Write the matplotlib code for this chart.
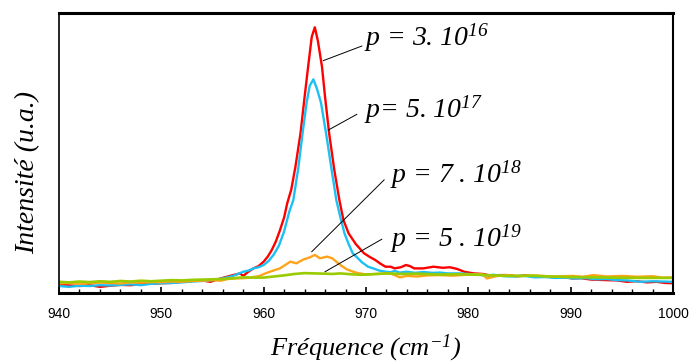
# Raman spectra: intensity vs frequency for four doping levels
import matplotlib.pyplot as plt

plt.rcParams['mathtext.fontset'] = 'custom'
plt.rcParams['mathtext.rm'] = 'Liberation Serif:italic'
plt.rcParams['mathtext.it'] = 'Liberation Serif:italic'

red_x = [940, 941, 942, 943, 944, 945, 946, 947, 948, 949, 950, 951, 952, 953, 953.8, 954.8,
         955.5, 956.2, 957.0, 957.7, 958.0, 958.5, 959.0, 959.5, 960.0, 960.4, 960.8, 961.2,
         961.6, 962.0, 962.3, 962.7, 963.1, 963.6, 964.0, 964.35, 964.7, 965.0, 965.3, 965.7,
         966.0, 966.4, 966.9, 967.4, 967.8, 968.3, 969.0, 969.8, 970.4, 970.9, 971.4, 971.9,
         972.4, 972.8, 973.4, 973.9, 974.3, 974.7, 975.6, 976.6, 977.5, 978.2, 978.9, 979.6,
         980.5, 981.4, 982.2, 983, 983.8, 984.7, 985.6, 986.5, 987.5, 988.3, 989.2, 990.2,
         991, 992, 993.5, 994.5, 995.5, 996.4, 997.5, 998.4, 999.2, 1000]
red_y = [2.9, 2.7, 2.5, 2.8, 2.2, 2.6, 2.9, 2.8, 3.2, 3.3, 3.5, 3.6, 4.0, 4.3, 4.6, 4.0,
         4.9, 5.6, 6.4, 7.0, 6.1, 7.6, 8.8, 9.6, 11.2, 13.0, 15.4, 18.5,
         22.5, 27, 32, 37, 45, 57, 70, 81, 91.5, 94.9, 90, 80.8,
         70, 57, 44, 33.2, 26, 21.3, 17.5, 14.2, 12.8, 11.8, 10.5, 9.4,
         9.4, 8.8, 9.2, 10.0, 9.6, 8.8, 8.8, 9.4, 9.0, 9.2, 8.6, 7.6,
         7.0, 6.8, 6.2, 6.4, 6.4, 6.0, 6.3, 5.8, 6.0, 5.6, 5.7, 5.2,
         5.3, 4.8, 4.6, 4.5, 4.0, 4.2, 3.8, 4.0, 3.6, 3.5]

blue_x = [940, 941, 942, 943, 944, 945, 946, 947, 948, 949, 950, 951, 952, 953, 954, 955,
          956, 957, 958, 958.5, 959, 959.5, 960, 960.5, 961, 961.5, 962, 962.5, 962.9, 963.4,
          963.8, 964.2, 964.5, 964.86, 965.2, 965.6, 966.1, 966.6, 967.1, 967.5, 967.9, 968.3,
          968.7, 969.1, 969.6, 970.2, 970.7, 971.3, 971.9, 972.4, 972.8, 973.3, 974, 974.8,
          975.6, 976.5, 977.2, 978, 979.2, 980, 981, 981.6, 982.5, 983.5, 984.5, 985.5,
          986.5, 987.5, 988.5, 989.5, 990.2, 991.5, 992.5, 993.5, 994.5, 995.5, 996.8, 998,
          999, 1000]
blue_y = [2.5, 2.2, 2.6, 2.5, 2.8, 2.7, 2.9, 3.1, 2.8, 3.3, 3.5, 3.6, 3.8, 4.1, 4.3, 4.6,
          5.2, 6.1, 7.6, 8.0, 8.8, 9.2, 10.0, 11.5, 13.8, 17, 22, 29, 33.2, 45,
          57, 68, 74, 76.3, 73, 68, 57, 45, 33.2, 27, 21.3, 17.5,
          14.2, 12.8, 11.0, 9.4, 8.8, 8.0, 7.6, 7.4, 7.9, 7.3, 7.6, 7.2,
          7.5, 7.2, 7.3, 7.0, 7.0, 6.8, 6.6, 6.2, 6.5, 6.0, 5.9, 6.1,
          5.6, 5.7, 5.4, 5.5, 5.2, 5.3, 4.9, 5.0, 4.6, 4.5, 4.0, 4.2,
          4.1, 4.0]

orange_x = [940, 941, 942, 943, 944, 945, 946, 947, 948, 949, 950, 951, 952, 953, 954, 955,
            955.8, 956.5, 957.2, 958, 958.7, 959.6, 960.1, 960.6, 961.1, 961.6, 962.1, 962.6,
            963.2, 963.9, 964.5, 965.0, 965.5, 966.2, 966.7, 967.1, 967.5, 968.1, 968.6, 969.1,
            969.4, 970, 971, 972.4, 973.3, 974.0, 975, 976, 977.2, 978.5, 980, 981.4,
            981.8, 982.7, 983.8, 985, 986.5, 988, 990.2, 991.2, 992.2, 993.5, 995.1, 996.5,
            998, 999, 1000]
orange_y = [3.4, 3.6, 3.3, 3.5, 3.7, 3.6, 3.4, 3.8, 3.7, 3.9, 3.9, 4.1, 4.0, 4.3, 4.4, 4.6,
            4.4, 5.0, 5.2, 5.3, 5.5, 6.1, 6.9, 7.6, 8.2, 8.8, 10.0, 11.2,
            10.6, 12.0, 12.7, 13.6, 12.4, 13.0, 12.4, 11.2, 10.0, 8.5, 7.8, 7.2,
            7.0, 6.6, 6.8, 7.0, 5.6, 6.1, 5.9, 6.3, 6.4, 6.2, 6.6, 6.7,
            5.2, 6.0, 6.4, 6.0, 6.3, 5.9, 6.1, 5.8, 6.4, 5.9, 6.1, 5.8,
            6.0, 5.5, 5.6]

green_x = [940, 941, 942, 943, 944, 945, 946, 947, 948, 949, 950, 951, 952, 953, 954, 955,
           956, 957, 958, 959, 960, 961, 962, 963, 964, 965, 966, 966.7, 967.5, 968.5,
           969.5, 970.5, 972, 973.5, 975, 977, 979, 981, 982.5, 984, 986, 988,
           990, 992, 994, 996, 998, 1000]
green_y = [4.0, 3.8, 4.1, 3.9, 4.2, 4.0, 4.3, 4.1, 4.4, 4.2, 4.4, 4.6, 4.5, 4.7, 4.8, 4.9,
           5.0, 5.3, 5.6, 5.5, 5.5, 5.9, 6.3, 6.8, 7.1, 7.0, 6.9, 6.8, 7.0, 6.7,
           6.5, 6.7, 7.0, 6.8, 6.9, 6.6, 6.7, 6.5, 6.3, 6.1, 6.2, 5.9,
           5.7, 5.6, 5.5, 5.4, 5.4, 5.4]

labels = ['p = 3. 10$^{16}$', 'p= 5. 10$^{17}$', 'p = 7 . 10$^{18}$', 'p = 5 . 10$^{19}$']
label_xy = [(969.8, 91.1), (969.8, 65.4), (972.3, 42.1), (972.3, 19.3)]
leader_from = [(965.84, 83.0), (966.32, 58.2), (964.70, 14.75), (966.0, 7.6)]
leader_to = [(969.59, 88.2), (969.10, 63.8), (971.77, 40.4), (971.54, 19.2)]

fig = plt.figure(figsize=(6.89, 3.63), dpi=100)
ax = fig.add_axes([0.0856, 0.1928, 0.8912, 0.7714])

ax.plot(red_x, red_y, color='#ff0000', lw=1.7)
ax.plot(blue_x, blue_y, color='#1ec0f2', lw=1.7)
ax.plot(orange_x, orange_y, color='#ffa31a', lw=1.7)
ax.plot(green_x, green_y, color='#99cc00', lw=1.9)

for (x0, y0), (x1, y1) in zip(leader_from, leader_to):
    ax.plot([x0, x1], [y0, y1], color='black', lw=0.7)

for txt, (x, y) in zip(labels, label_xy):
    ax.text(x, y, txt, family='Liberation Serif', style='italic', fontsize=20,
            va='center', ha='left')

ax.set_xlim(940, 1000)
ax.set_ylim(0, 100)
ax.set_xticks(range(940, 1001, 10))
ax.set_xticks(range(940, 1001, 2), minor=True)
ax.set_yticks([])
ax.tick_params(axis='x', which='major', direction='in', length=4.5, width=1.2, pad=10,
               labelsize=10)
ax.tick_params(axis='x', which='minor', direction='in', length=3, width=1.0)
for lbl in ax.get_xticklabels():
    lbl.set_family('Liberation Sans')

ax.spines['top'].set_linewidth(2.2)
ax.spines['bottom'].set_linewidth(2.2)
ax.spines['left'].set_linewidth(1.2)
ax.spines['right'].set_linewidth(1.5)

ax.set_xlabel('Fréquence (cm$^{-1}$)', family='Liberation Serif', style='italic',
              fontsize=19)
ax.xaxis.set_label_coords(0.5, -0.14)
ax.set_ylabel('Intensité (u.a.)', family='Liberation Serif', style='italic', fontsize=20)
ax.yaxis.set_label_coords(-0.031, 0.43)

fig.savefig('out.png', dpi=100)
